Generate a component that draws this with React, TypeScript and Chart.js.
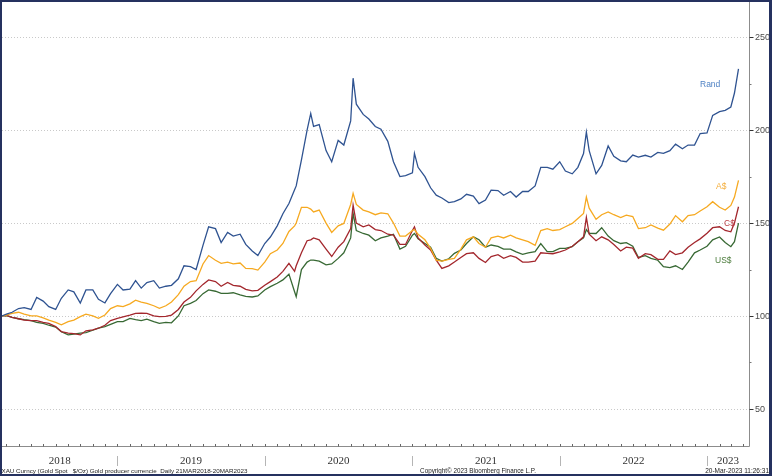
import { useEffect, useRef } from "react";
import { Chart, registerables } from "chart.js";

Chart.register(...registerables);

// ---- data (semi-monthly readings, index rebased to 100 on 21 Mar 2018) ----
const dates = [
  "2018-03-21","2018-04-01","2018-04-15","2018-05-01","2018-05-15","2018-06-01","2018-06-15","2018-07-01","2018-07-15","2018-08-01","2018-08-15","2018-09-01","2018-09-15","2018-10-01","2018-10-15","2018-11-01","2018-11-15","2018-12-01","2018-12-15",
  "2019-01-01","2019-01-15","2019-02-01","2019-02-15","2019-03-01","2019-03-15","2019-04-01","2019-04-15","2019-05-01","2019-05-15","2019-06-01","2019-06-15","2019-07-01","2019-07-15","2019-08-01","2019-08-15","2019-09-01","2019-09-15","2019-10-01","2019-10-15","2019-11-01","2019-11-15","2019-12-01","2019-12-15",
  "2020-01-01","2020-01-15","2020-02-01","2020-02-15","2020-03-01","2020-03-15","2020-03-19","2020-04-01","2020-04-15","2020-04-24","2020-05-01","2020-05-15","2020-06-01","2020-06-15","2020-07-01","2020-07-15","2020-08-01","2020-08-07","2020-08-15","2020-09-01","2020-09-15","2020-10-01","2020-10-15","2020-11-01","2020-11-15","2020-12-01","2020-12-15",
  "2021-01-01","2021-01-06","2021-01-15","2021-02-01","2021-02-15","2021-03-01","2021-03-15","2021-04-01","2021-04-15","2021-05-01","2021-05-15","2021-06-01","2021-06-15","2021-07-01","2021-07-15","2021-08-01","2021-08-15","2021-09-01","2021-09-15","2021-10-01","2021-10-15","2021-11-01","2021-11-15","2021-12-01","2021-12-15",
  "2022-01-01","2022-01-15","2022-02-01","2022-02-15","2022-03-01","2022-03-08","2022-03-15","2022-04-01","2022-04-15","2022-05-01","2022-05-15","2022-06-01","2022-06-15","2022-07-01","2022-07-15","2022-08-01","2022-08-15","2022-09-01","2022-09-15","2022-10-01","2022-10-15","2022-11-01","2022-11-15","2022-12-01","2022-12-15",
  "2023-01-01","2023-01-15","2023-02-01","2023-02-15","2023-03-01","2023-03-10","2023-03-20",
];

const rand = [
  100, 101, 102, 104, 104.5, 103.5, 110, 108, 105, 103.5, 109.5, 114, 113, 107, 114, 114, 109, 107, 112,
  117, 114, 114.5, 119, 115, 118, 119, 115, 116, 116.5, 120, 127, 126.5, 125, 138, 148, 147, 139.5, 145, 143, 144, 138.5, 135, 132.5,
  139, 142.5, 148.5, 155, 160.5, 168, 170, 184, 200, 209, 202, 203, 189, 183, 194.5, 192, 205, 228, 214, 208.5, 206, 202, 200.5, 194, 183, 175, 175.5,
  177, 187.5, 180, 175, 169, 165, 163.5, 161, 161.5, 163, 165.5, 164.5, 160.5, 162.4, 167.7, 167.5, 165, 167, 164, 167, 167, 170, 180, 180, 179,
  183, 178, 176.5, 180, 187.4, 199, 189, 176.5, 181, 191.5, 186, 183.5, 183, 186.6, 185.5, 186.5, 185.5, 188, 187.5, 189, 192.5, 190, 192, 192, 198.2,
  198.5, 208, 210, 210.7, 212.5, 220, 233,
];

const aud = [
  100, 100.5, 101.4, 102, 101, 100, 100, 99, 97.8, 96.5, 95.2, 96.9, 97.8, 99.6, 101, 100, 98.7, 100.5, 104,
  105.5, 105, 106.5, 108.5, 107.5, 106.8, 105.5, 104.1, 105.5, 107.5, 111.5, 116, 118.5, 119, 128, 132.5, 130, 128.3, 129, 128, 128.5, 125.6, 125.5, 124.7,
  129, 133.5, 135.5, 139, 145.5, 148.5, 150, 158.5, 158.5, 157.5, 156, 157, 150, 145, 148.5, 149.8, 160, 166, 160, 157, 156, 154.5, 155.5, 155, 150, 143, 143,
  146, 146.5, 144, 141, 136.4, 130, 129.5, 130.5, 131, 136, 141, 142.6, 139, 137, 142, 143, 142, 143.5, 142, 141, 140, 138, 146, 147, 146,
  146.5, 148, 149.8, 152.5, 155.2, 164, 158, 152, 154.5, 156, 154.5, 153, 154.3, 153.5, 147, 147.5, 149, 147.3, 146.2, 149.5, 154, 150.7, 154, 154.5, 156.5,
  158.8, 161.5, 158.5, 157, 159.5, 164, 173,
];

const cad = [
  100, 100.3, 99.3, 98.5, 97.8, 97.5, 97.5, 96.5, 96, 94.3, 91.6, 90.8, 90.5, 89.8, 92, 92.5, 93.4, 95, 97.5,
  98.7, 99.5, 100.5, 101.4, 101.5, 101.4, 100, 99.6, 99.8, 100.5, 103.5, 107.5, 110, 113.5, 117, 119.4, 118.5, 116, 118, 116.5, 116, 114.3, 113.5, 113.8,
  116.5, 118.5, 121, 124, 128.3, 124, 127, 134, 140.5, 141, 142, 141, 136, 132, 137, 140, 147, 159.7, 150, 148, 149, 146.5, 146, 144, 143.5, 138.5, 138.5,
  146, 148, 142, 138.2, 135.5, 130, 125.6, 127, 129, 131.5, 133.5, 134, 131, 128.8, 132, 133, 131, 132.5, 131.5, 129, 129, 129.5, 134, 133.7, 133.5,
  134.5, 135.5, 137.5, 140, 142.6, 153, 144, 140.5, 142.6, 141, 138.5, 135, 137, 136.5, 131, 133.5, 133, 130.5, 130.5, 135, 133, 134, 137, 139.5, 141.5,
  144.5, 147.5, 148, 146, 145.3, 150, 158.8,
];

const usd = [
  100, 100.2, 99.3, 98.5, 98, 97.5, 96.5, 96, 95, 94, 91.5, 89.8, 90.2, 90.8, 91, 92.3, 93.5, 94.3, 95.5,
  96.9, 97, 98.7, 98, 97.5, 98.3, 96.9, 96, 96.5, 96.3, 100, 105.5, 106.8, 108.3, 112, 114, 113.3, 112.2, 112.2, 112.5, 111.3, 110.5, 110.2, 110.8,
  114, 115.8, 117.6, 119.4, 122.5, 113, 110.4, 125, 129, 130.1, 130.1, 129.5, 127.5, 128, 131, 134, 142, 155.2, 146, 144.4, 143.5, 140.5, 142, 143, 144, 136, 137.5,
  143.5, 144.4, 141.5, 139, 137, 131, 129.5, 130.8, 133.7, 135.5, 139, 142.6, 141, 137, 138.2, 137.5, 136, 136, 134.5, 133.2, 134, 134.6, 139, 134.6, 134.6,
  136.4, 136.4, 137.3, 140, 142, 146.5, 144.5, 144.4, 147.5, 143, 140.5, 139, 139.5, 137.5, 131.5, 132.5, 131, 130, 126.5, 126, 127, 125, 129, 134, 135.5,
  137.5, 141, 142.5, 139.5, 137.3, 140, 150,
];

const seriesNames = ["Rand", "A$", "C$", "US$"];
const yTicks = [50, 100, 150, 200, 250];
const yMinorTicks = [75, 125, 175, 225];
const years = ["2018", "2019", "2020", "2021", "2022", "2023"];
const xStart = "2018-03-21";
const xEnd = "2023-04-15";
const footerLeft = "XAU Curncy (Gold Spot   $/Oz) Gold producer currencie  Daily 21MAR2018-20MAR2023";
const footerMid = "Copyright\u00A9 2023 Bloomberg Finance L.P.";
const footerRight = "20-Mar-2023 11:26:31";

// ---- helpers / styles ----
const BASE = Date.UTC(2018, 0, 1);
const toDay = (s: string) => {
  const [y, m, d] = s.split("-").map(Number);
  return (Date.UTC(y, m - 1, d) - BASE) / 86400000;
};

const lineColors = ["#2f5391", "#f6a920", "#a3272d", "#386934"];
const labelColors = ["#4f82c4", "#f4ad3a", "#bb3d44", "#4b7b3b"];
const labelPos = [
  { x: 700, y: 85 },
  { x: 716, y: 187 },
  { x: 724, y: 224 },
  { x: 715, y: 261 },
];

const W = 772;
const H = 476;

const decorPlugin = {
  id: "bbgDecor",
  beforeDatasetsDraw(chart: any) {
    const { ctx, chartArea, scales } = chart;
    const y = scales.y;
    ctx.save();
    ctx.fillStyle = "#ffffff";
    ctx.fillRect(0, 0, W, H);
    ctx.strokeStyle = "#c9c9c9";
    ctx.lineWidth = 1;
    ctx.setLineDash([1, 2]);
    for (const v of yTicks) {
      const py = Math.round(y.getPixelForValue(v)) + 0.5;
      ctx.beginPath();
      ctx.moveTo(chartArea.left, py);
      ctx.lineTo(chartArea.right, py);
      ctx.stroke();
    }
    ctx.restore();
  },
  afterDatasetsDraw(chart: any) {
    const { ctx, chartArea, scales } = chart;
    const x = scales.x;
    const y = scales.y;
    const L = chartArea.left;
    const R = Math.round(chartArea.right) + 0.5;
    const B = Math.round(chartArea.bottom) + 0.5;
    ctx.save();

    // axis lines
    ctx.strokeStyle = "#8c8c8c";
    ctx.lineWidth = 1;
    ctx.beginPath();
    ctx.moveTo(R, chartArea.top);
    ctx.lineTo(R, B);
    ctx.lineTo(L, B);
    ctx.stroke();

    // y ticks + labels
    ctx.strokeStyle = "#333333";
    ctx.fillStyle = "#4a4a4a";
    ctx.font = "9px 'Liberation Sans', Arial, sans-serif";
    ctx.textAlign = "left";
    ctx.textBaseline = "middle";
    for (const v of yTicks) {
      const py = Math.round(y.getPixelForValue(v)) + 0.5;
      ctx.beginPath();
      ctx.moveTo(R, py);
      ctx.lineTo(R + 4, py);
      ctx.stroke();
      ctx.fillText(String(v), R + 5.5, py + 0.5);
    }
    ctx.strokeStyle = "#777777";
    for (const v of yMinorTicks) {
      const py = Math.round(y.getPixelForValue(v)) + 0.5;
      ctx.beginPath();
      ctx.moveTo(R, py);
      ctx.lineTo(R + 2, py);
      ctx.stroke();
    }

    // monthly ticks on x axis
    ctx.strokeStyle = "#666666";
    for (let yr = 2018; yr <= 2023; yr++) {
      for (let m = 1; m <= 12; m++) {
        const ds = `${yr}-${String(m).padStart(2, "0")}-01`;
        const d = toDay(ds);
        if (d < x.min || d > x.max) continue;
        const px = Math.round(x.getPixelForValue(d)) + 0.5;
        ctx.beginPath();
        ctx.moveTo(px, B - 2.5);
        ctx.lineTo(px, B);
        ctx.stroke();
      }
    }

    // year separators + labels
    const bounds: number[] = [L];
    for (let i = 1; i < years.length; i++) {
      bounds.push(x.getPixelForValue(toDay(`${years[i]}-01-01`)));
    }
    bounds.push(chartArea.right);
    ctx.strokeStyle = "#b5b5b5";
    for (let i = 1; i < bounds.length - 1; i++) {
      const px = Math.round(bounds[i]) + 0.5;
      ctx.beginPath();
      ctx.moveTo(px, 456);
      ctx.lineTo(px, 466);
      ctx.stroke();
    }
    ctx.fillStyle = "#333333";
    ctx.font = "11px 'Liberation Serif', 'DejaVu Serif', serif";
    ctx.textAlign = "center";
    ctx.textBaseline = "middle";
    for (let i = 0; i < years.length; i++) {
      ctx.fillText(years[i], (bounds[i] + bounds[i + 1]) / 2, 461);
    }

    // footer texts, fitted to their widths
    const fit = (t: string, w: number) => {
      ctx.font = "10px 'Liberation Sans', Arial, sans-serif";
      const m = ctx.measureText(t).width;
      ctx.font = `${(10 * w) / m}px 'Liberation Sans', Arial, sans-serif`;
    };
    ctx.fillStyle = "#222222";
    ctx.textBaseline = "middle";
    fit(footerLeft, 246);
    ctx.textAlign = "left";
    ctx.fillText(footerLeft, 1.5, 471);
    fit(footerMid, 116);
    ctx.textAlign = "center";
    ctx.fillText(footerMid, 478, 471);
    fit(footerRight, 64);
    ctx.textAlign = "right";
    ctx.fillText(footerRight, 769, 471);

    // series labels
    ctx.font = "8.5px 'Liberation Sans', Arial, sans-serif";
    ctx.textAlign = "left";
    ctx.textBaseline = "middle";
    seriesNames.forEach((n, i) => {
      ctx.fillStyle = labelColors[i];
      ctx.fillText(n, labelPos[i].x, labelPos[i].y);
    });

    // frame
    ctx.fillStyle = "#25315f";
    ctx.fillRect(0, 0, W, 2);
    ctx.fillRect(0, 0, 2, H);
    ctx.fillRect(W - 3, 0, 3, H);
    ctx.fillRect(0, H - 2, W, 2);
    ctx.restore();
  },
};

export default function App() {
  const ref = useRef<HTMLCanvasElement | null>(null);

  useEffect(() => {
    if (!ref.current) return;
    const all = [rand, aud, cad, usd];
    const chart = new Chart(ref.current, {
      type: "line",
      data: {
        datasets: all.map((vals, i) => ({
          label: seriesNames[i],
          data: dates.map((d, j) => ({ x: toDay(d), y: vals[j] })),
          borderColor: lineColors[i],
          backgroundColor: lineColors[i],
          borderWidth: 1.3,
          pointRadius: 0,
          tension: 0,
        })),
      },
      options: {
        animation: false,
        responsive: false,
        maintainAspectRatio: false,
        devicePixelRatio: 1,
        layout: { padding: { left: 2, right: W - 749, top: 2, bottom: H - 446 } },
        plugins: { legend: { display: false }, tooltip: { enabled: false } },
        events: [],
        scales: {
          x: { type: "linear", display: false, min: toDay(xStart), max: toDay(xEnd) },
          y: { type: "linear", display: false, min: 30, max: 269 },
        },
      },
      plugins: [decorPlugin],
    });
    return () => chart.destroy();
  }, []);

  return (
    <div style={{ position: "fixed", left: 0, top: 0, width: W, height: H, background: "#fff" }}>
      <canvas ref={ref} width={W} height={H} style={{ display: "block", width: W, height: H }} />
    </div>
  );
}
